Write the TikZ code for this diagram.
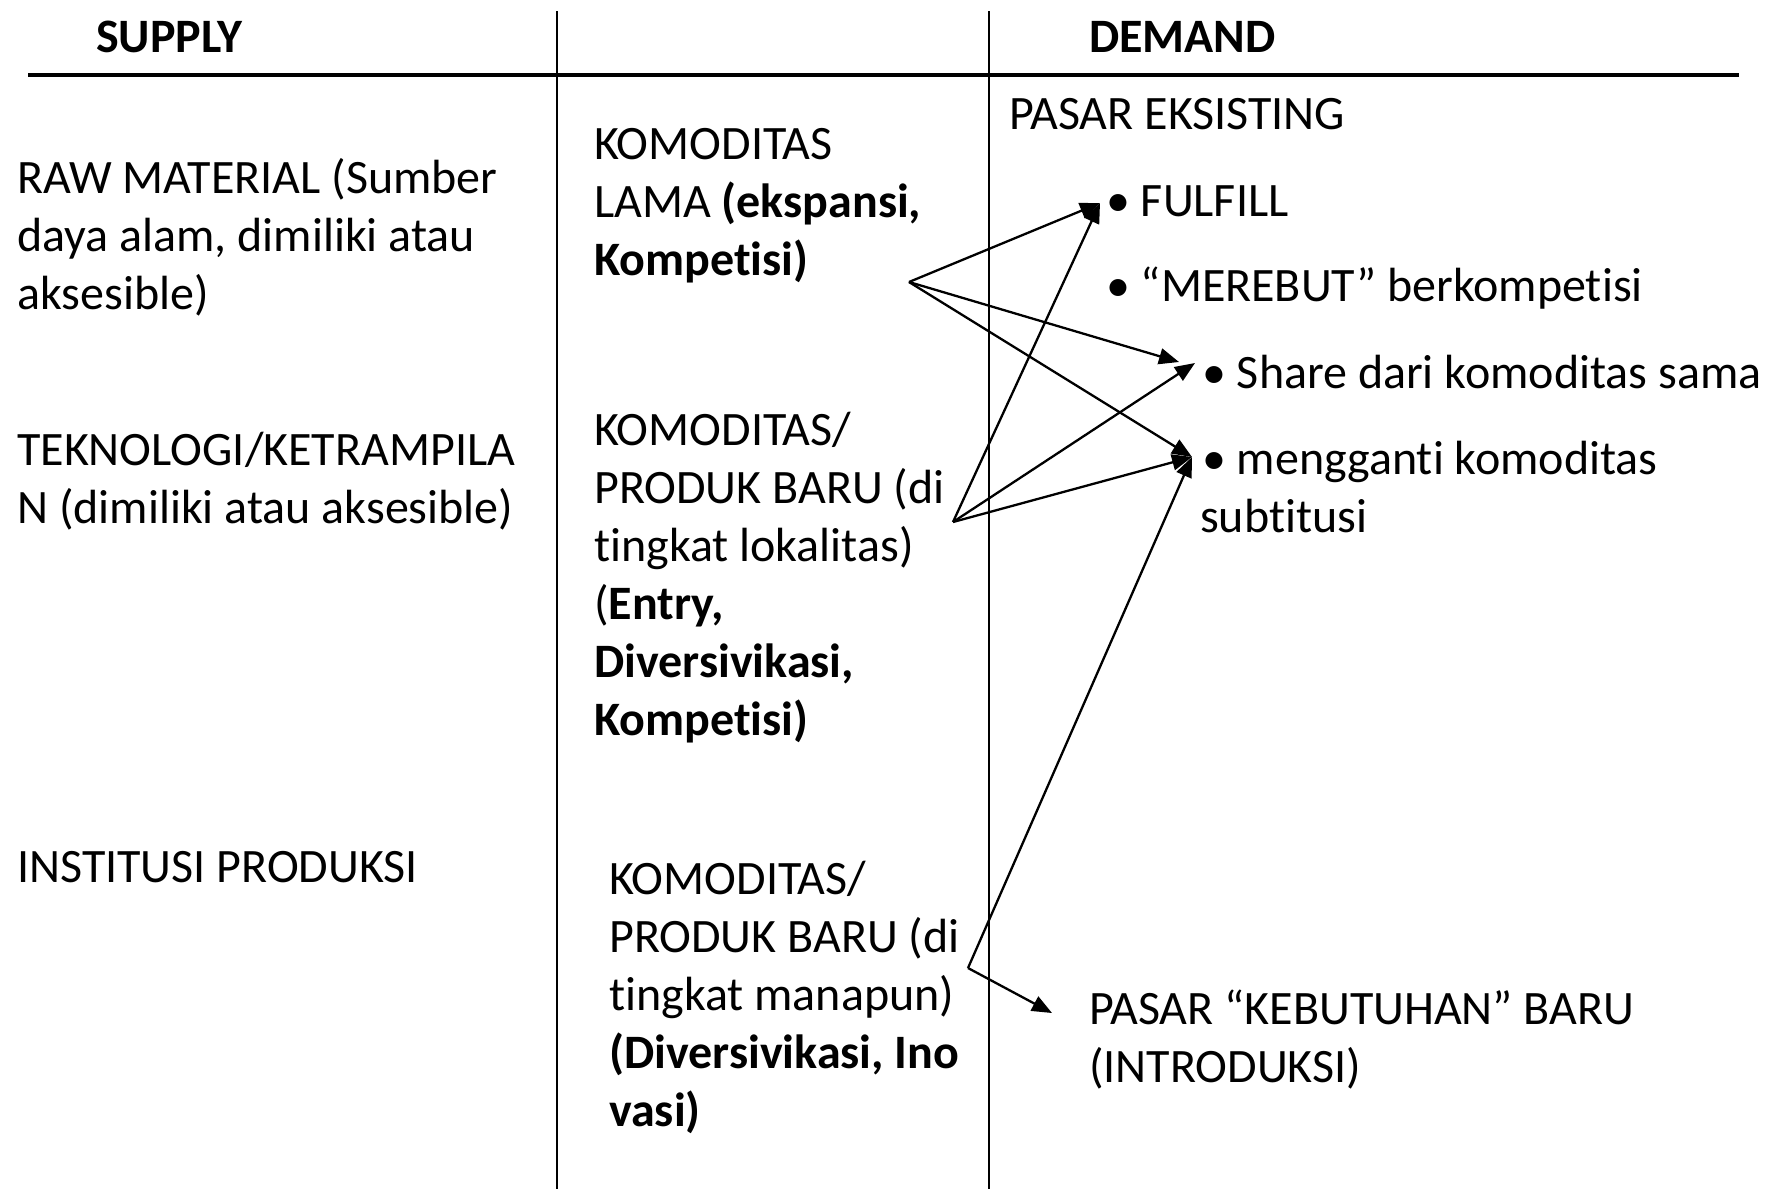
\documentclass[tikz,border=0pt]{standalone}
\usepackage{fontspec}
\setmainfont{Carlito}[Ligatures=NoCommon]
\usetikzlibrary{arrows.meta}

% Multi-line nodes are placed by the baseline of their last line.
\tikzset{
  txt/.style={anchor=base west, inner sep=0pt, align=left, font=\fontsize{48}{58}\selectfont},
  head/.style={txt, font=\fontsize{48}{58}\selectfont\bfseries},
  rule/.style={line width=2.4pt, draw=black},
  link/.style={line width=2.3pt, -{Triangle[length=20pt,width=16pt]}}
}

\begin{document}
\begin{tikzpicture}[x=1pt, y=-1pt]
  \path[use as bounding box, fill=white] (0,0) rectangle (1771,1189);

  % table rules
  \draw[rule] (557,11) -- (557,1189);
  \draw[rule] (989,11) -- (989,1189);
  \draw[line width=4pt] (28,74.5) -- (1739,74.5);

  % column heads
  \node[head] (supply) at (96,52) {SUPPLY};
  \node[head] (demand) at (1089,52) {DEMAND};

  % supply column
  \node[txt] (raw) at (17,309) {RAW MATERIAL (Sumber\\daya alam, dimiliki atau\\aksesible)};
  \node[txt] (tek) at (17,523) {TEKNOLOGI/KETRAMPILA\\N (dimiliki atau aksesible)};
  \node[txt] (inst) at (17,882) {INSTITUSI PRODUKSI};

  % commodity column
  \node[txt] (lama) at (594,275) {KOMODITAS\\LAMA \textbf{(ekspansi,}\\\textbf{Kompetisi)}};
  \node[txt] (lokal) at (594,735) {KOMODITAS/\\PRODUK BARU (di\\tingkat lokalitas)\\(\textbf{Entry,}\\\textbf{Diversivikasi,}\\\textbf{Kompetisi)}};
  \node[txt] (mana) at (609,1126) {KOMODITAS/\\PRODUK BARU (di\\tingkat manapun)\\\textbf{(Diversivikasi, Ino}\\\textbf{vasi)}};

  % demand column
  \node[txt] (eks) at (1009,129) {PASAR EKSISTING};
  \node[txt] (fulfill) at (1106,216) {• FULFILL};
  \node[txt] (merebut) at (1106,301) {• “MEREBUT” berkompetisi};
  \node[txt] (share) at (1202,388) {• Share dari komoditas sama};
  \node[txt] (ganti) at (1200,532) {\hspace{2pt}• mengganti komoditas\\subtitusi};
  \node[txt] (baru) at (1089,1082) {PASAR “KEBUTUHAN” BARU\\(INTRODUKSI)};

  % arrow origins and ends
  \coordinate (oLama) at (909,282);
  \coordinate (oLokal) at (953,522);
  \coordinate (oMana) at (968,968);
  \coordinate (tFulfill) at (1100,203);
  \coordinate (tShareA) at (1179,362);
  \coordinate (tShareB) at (1195,363);
  \coordinate (tGanti) at (1192,457);
  \coordinate (tBaru) at (1052,1013);

  \draw[link] (oLama) -- (tFulfill);
  \draw[link] (oLama) -- (tShareA);
  \draw[link] (oLama) -- (tGanti);
  \draw[link] (oLokal) -- (tFulfill);
  \draw[link] (oLokal) -- (tShareB);
  \draw[link] (oLokal) -- (tGanti);
  \draw[link] (oMana) -- (tGanti);
  \draw[link] (oMana) -- (tBaru);
\end{tikzpicture}
\end{document}
